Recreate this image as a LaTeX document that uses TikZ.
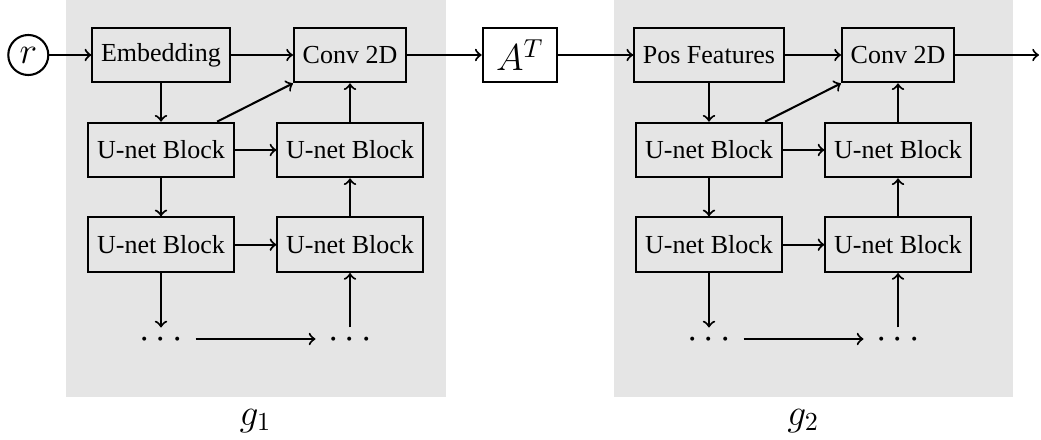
\documentclass[tikz,border=0pt]{standalone}
\usepackage[no-math]{fontspec}
\setmainfont{Liberation Serif}
\newcommand{\mydotrow}{\Large$\cdots$\hspace{2.3pt}}
\begin{document}
\begin{tikzpicture}[x=0.3846pt,y=-0.3846pt,
  blk/.style={draw,thick,minimum height=21pt,inner xsep=3.33pt,inner ysep=0pt},
  arr/.style={->,thick},
  dotnode/.style={inner xsep=0pt,inner ysep=0.63pt,text height=7.2pt,text depth=0pt,minimum width=26.15pt},
  panel/.style={fill=gray!20},
  lbl/.style={anchor=base,inner sep=0pt,font=\Large}]
\useasboundingbox (0,0) rectangle (1041,440);
\fill[panel] (65.7,0) rectangle (445.7,396.7);
\fill[panel] (613.7,0) rectangle (1012.5,396.7);

% left block g1
\node[draw,thick,circle,minimum size=15.4pt,inner sep=0pt,font=\Large] (r) at (28.3,55) {$r$};
\node[blk] (emb) at (161,55) {Embedding};
\node[blk] (c1) at (350,55) {Conv 2D};
\node[blk] (a11) at (161,150) {U-net Block};
\node[blk] (a12) at (350,150) {U-net Block};
\node[blk] (a21) at (161,244.7) {U-net Block};
\node[blk] (a22) at (350,244.7) {U-net Block};
\node[dotnode] (d11) at (161,339) {\mydotrow};
\node[dotnode] (d12) at (350,339) {\mydotrow};
\node[lbl] (g1) at (255.5,425) {$g_1$};

% transpose
\node[blk,minimum width=28.7pt,font=\Large] (at) at (520,55) {$A^T$};

% right block g2
\node[blk] (pos) at (709,55) {Pos Features};
\node[blk] (c2) at (898,55) {Conv 2D};
\node[blk] (b11) at (709,150) {U-net Block};
\node[blk] (b12) at (898,150) {U-net Block};
\node[blk] (b21) at (709,244.7) {U-net Block};
\node[blk] (b22) at (898,244.7) {U-net Block};
\node[dotnode] (d21) at (709,339) {\mydotrow};
\node[dotnode] (d22) at (898,339) {\mydotrow};
\node[lbl] (g2) at (803.3,425) {$g_2$};
\coordinate (out) at (1039,55);

% connectors g1
\draw[arr] (r) -- (emb);
\draw[arr] (emb) -- (c1);
\draw[arr] (emb) -- (a11);
\draw[arr] (a11) -- (c1.south west);
\draw[arr] (a11) -- (a12);
\draw[arr] (a11) -- (a21);
\draw[arr] (a21) -- (a22);
\draw[arr] (a21) -- (d11);
\draw[arr] (d11) -- (d12);
\draw[arr] (d12) -- (a22);
\draw[arr] (a22) -- (a12);
\draw[arr] (a12) -- (c1);

% middle
\draw[arr] (c1) -- (at);
\draw[arr] (at) -- (pos);

% connectors g2
\draw[arr] (pos) -- (c2);
\draw[arr] (pos) -- (b11);
\draw[arr] (b11) -- (c2.south west);
\draw[arr] (b11) -- (b12);
\draw[arr] (b11) -- (b21);
\draw[arr] (b21) -- (b22);
\draw[arr] (b21) -- (d21);
\draw[arr] (d21) -- (d22);
\draw[arr] (d22) -- (b22);
\draw[arr] (b22) -- (b12);
\draw[arr] (b12) -- (c2);
\draw[arr] (c2) -- (out);
\end{tikzpicture}
\end{document}
